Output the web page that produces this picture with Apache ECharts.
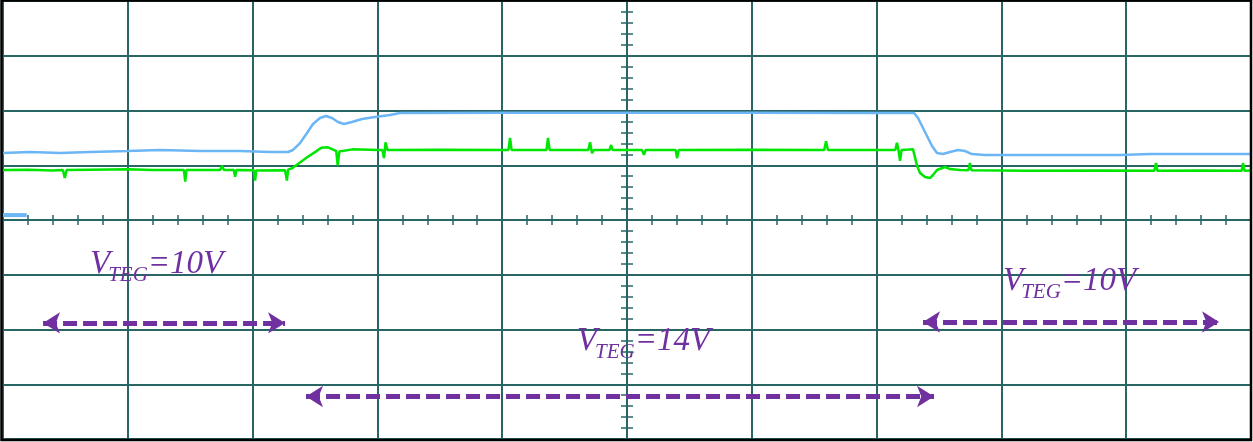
<!DOCTYPE html>
<html>
<head>
<meta charset="utf-8">
<script src="https://cdn.jsdelivr.net/npm/echarts@6/dist/echarts.min.js"></script>
<style>
html, body { margin: 0; padding: 0; background: #fff; }
#main { width: 1253px; height: 442px; }
</style>
</head>
<body>
<div id="main"></div>
<script>
// scope screen: time and voltage both in divisions (x -5..5, y -4..4)
var blueT = [-5.0, -4.784, -4.543, -4.303, -3.998, -3.742, -3.421, -3.101, -2.861, -2.716, -2.676, -2.62, -2.564, -2.516, -2.46, -2.412, -2.364, -2.316, -2.268, -2.204, -2.123, -2.019, -1.899, -1.819, -1.0, 0.0, 1.0, 2.0, 2.3, 2.332, 2.364, 2.404, 2.444, 2.484, 2.532, 2.588, 2.652, 2.708, 2.764, 2.869, 3.389, 3.95, 4.191, 4.591, 4.992];
var blueV = [1.224, 1.242, 1.224, 1.242, 1.26, 1.279, 1.26, 1.26, 1.242, 1.242, 1.279, 1.406, 1.589, 1.753, 1.863, 1.9, 1.863, 1.79, 1.753, 1.79, 1.845, 1.881, 1.918, 1.954, 1.96, 1.96, 1.96, 1.954, 1.954, 1.863, 1.717, 1.534, 1.352, 1.224, 1.205, 1.242, 1.279, 1.26, 1.205, 1.187, 1.187, 1.187, 1.205, 1.205, 1.205];

var greenT = [-5.0, -4.8, -4.6, -4.52, -4.505, -4.49, -4.3, -4.0, -3.8, -3.55, -3.54, -3.53, -3.26, -3.245, -3.23, -3.15, -3.14, -3.13, -2.99, -2.98, -2.97, -2.74, -2.725, -2.715, -2.68, -2.62, -2.56, -2.5, -2.45, -2.4, -2.35, -2.33, -2.318, -2.305, -2.2, -2.0, -1.96, -1.947, -1.935, -1.92, -1.5, -0.95, -0.937, -0.925, -0.645, -0.633, -0.62, -0.31, -0.296, -0.28, -0.265, -0.14, -0.128, -0.115, 0.12, 0.136, 0.15, 0.39, 0.401, 0.415, 1.0, 1.58, 1.595, 1.61, 2.15, 2.163, 2.175, 2.188, 2.2, 2.292, 2.324, 2.348, 2.388, 2.428, 2.452, 2.484, 2.548, 2.588, 2.668, 2.735, 2.748, 2.76, 3.2, 3.8, 4.225, 4.239, 4.25, 4.6, 4.925, 4.936, 4.948, 5.0];
var greenV = [0.913, 0.92, 0.905, 0.913, 0.77, 0.913, 0.92, 0.925, 0.913, 0.913, 0.70, 0.913, 0.915, 0.99, 0.913, 0.913, 0.79, 0.913, 0.91, 0.72, 0.905, 0.91, 0.72, 0.92, 0.95, 1.05, 1.15, 1.24, 1.32, 1.33, 1.28, 1.26, 1.0, 1.25, 1.29, 1.28, 1.28, 1.13, 1.42, 1.28, 1.285, 1.28, 1.5, 1.28, 1.28, 1.5, 1.28, 1.28, 1.42, 1.22, 1.28, 1.28, 1.37, 1.28, 1.28, 1.19, 1.28, 1.28, 1.13, 1.28, 1.285, 1.28, 1.44, 1.28, 1.28, 1.41, 1.28, 1.08, 1.28, 1.29, 0.99, 0.86, 0.785, 0.767, 0.822, 0.913, 0.968, 0.93, 0.913, 0.91, 1.04, 0.91, 0.9, 0.905, 0.9, 1.04, 0.9, 0.905, 0.9, 1.04, 0.9, 0.905];

// channel reference marker at the left edge
var refT = [-5.0, -4.81];
var refV = [0.09, 0.09];

// annotations
var arrowFrom = [-4.679, 2.372, -2.572];
var arrowTo = [-2.74, 4.744, 2.46];
var arrowY = [-1.88, -1.863, -3.224];
var labelVal = ['10V', '10V', '14V'];
var labelX = [-4.303, 3.013, -0.401];
var labelY = [-1.005, -1.315, -2.411];

var gridColor = '#286565';
var purple = '#7030a0';

function zip(a, b) {
	var out = [];
	for (var i = 0; i < a.length; i++) out.push([a[i], b[i]]);
	return out;
}

var arrows = [];
for (var i = 0; i < arrowFrom.length; i++) {
	arrows.push([{ coord: [arrowFrom[i], arrowY[i]] }, { coord: [arrowTo[i], arrowY[i]] }]);
}

function xAx(inside, grid) {
	return {
		type: 'value', min: -5, max: 5, interval: 1, position: 'bottom',
		axisLine: { show: true, onZero: true, onZeroAxisIndex: 0, lineStyle: { color: gridColor, width: 2 } },
		axisTick: { show: false, inside: inside },
		minorTick: { show: true, splitNumber: 5, length: 5, lineStyle: { color: gridColor, width: 1.5 } },
		axisLabel: { show: false },
		splitLine: { show: grid, lineStyle: { color: gridColor, width: 2 } }
	};
}
function yAx(inside, grid) {
	return {
		type: 'value', min: -4, max: 4, interval: 1, position: 'left',
		axisLine: { show: true, onZero: true, onZeroAxisIndex: 0, lineStyle: { color: gridColor, width: 2 } },
		axisTick: { show: false, inside: inside },
		minorTick: { show: true, splitNumber: 5, length: 6, lineStyle: { color: gridColor, width: 1.5 } },
		axisLabel: { show: false },
		splitLine: { show: grid, lineStyle: { color: gridColor, width: 2 } }
	};
}

var myChart = echarts.init(document.getElementById('main'));

var option = {
	animation: false,
	backgroundColor: '#fff',
	grid: { left: 3, right: 2, top: 1, bottom: 3, show: true, borderColor: gridColor, borderWidth: 2 },
	xAxis: [xAx(false, true), xAx(true, false)],
	yAxis: [yAx(false, true), yAx(true, false)],
	series: [{
		name: 'ref',
		type: 'line',
		data: zip(refT, refV),
		showSymbol: false,
		silent: true,
		lineStyle: { color: '#6cb6f5', width: 4 }
	}, {
		name: 'blue',
		type: 'line',
		data: zip(blueT, blueV),
		showSymbol: false,
		silent: true,
		lineStyle: { color: '#6cb6f5', width: 2.5 }
	}, {
		name: 'green',
		type: 'line',
		data: zip(greenT, greenV),
		showSymbol: false,
		silent: true,
		lineStyle: { color: '#00e600', width: 2.5 },
		markLine: {
			silent: true,
			symbol: ['arrow', 'arrow'],
			symbolSize: [16, 17],
			label: { show: false },
			lineStyle: { color: purple, width: 5, type: [14, 6], opacity: 1 },
			data: arrows
		}
	}]
};
myChart.setOption(option);

// V_TEG labels, subscript as separate text
var ctx = document.createElement('canvas').getContext('2d');
function textW(t, size) {
	ctx.font = 'italic ' + size + 'px "Liberation Serif"';
	return ctx.measureText(t).width;
}
var graphics = [];
for (var k = 0; k < labelVal.length; k++) {
	var p = myChart.convertToPixel({ gridIndex: 0 }, [labelX[k], labelY[k]]);
	var w1 = textW('V', 33);
	var w2 = textW('TEG', 21);
	graphics.push({
		type: 'group', x: p[0], y: p[1] + 6, silent: true, z: 100,
		children: [
			{ type: 'text', x: 0, y: 0, style: { text: 'V', font: 'italic 33px "Liberation Serif"', fill: purple, verticalAlign: 'bottom' } },
			{ type: 'text', x: w1 - 2, y: 5, style: { text: 'TEG', font: 'italic 21px "Liberation Serif"', fill: purple, verticalAlign: 'bottom' } },
			{ type: 'text', x: w1 - 2 + w2, y: 0, style: { text: '=' + labelVal[k], font: 'italic 33px "Liberation Serif"', fill: purple, verticalAlign: 'bottom' } }
		]
	});
}
// outer black frame of the screen
graphics.push({
	type: 'rect', silent: true, z: 100,
	shape: { x: 1.5, y: 0.5, width: 1249.5, height: 439.5 },
	style: { fill: 'none', stroke: '#000', lineWidth: 2.5 }
});
myChart.setOption({ graphic: graphics });
</script>
</body>
</html>
